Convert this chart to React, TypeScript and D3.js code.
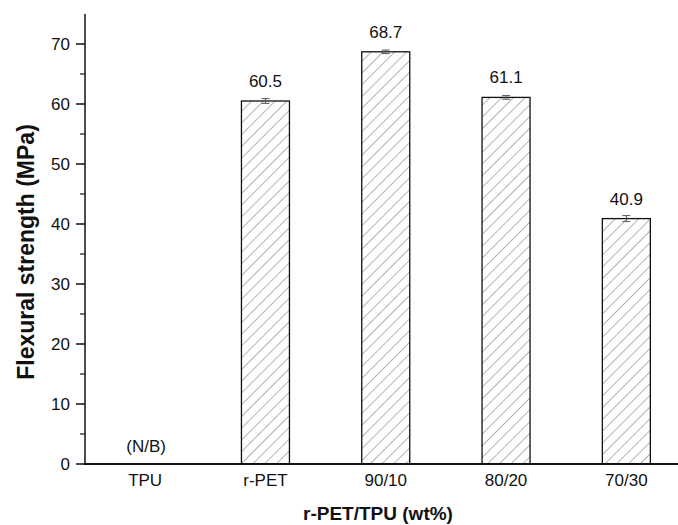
import React from "react";
import * as d3 from "d3";

const categories = ["TPU", "r-PET", "90/10", "80/20", "70/30"];
const values: (number | null)[] = [null, 60.5, 68.7, 61.1, 40.9];
const errors: (number | null)[] = [null, 0.4, 0.3, 0.3, 0.5];
const valueLabels = ["(N/B)", "60.5", "68.7", "61.1", "40.9"];
const majorTicks = [0, 10, 20, 30, 40, 50, 60, 70];
const minorTicks = [5, 15, 25, 35, 45, 55, 65];

export default function App() {
  const W = 678, H = 525;
  const x = d3.scalePoint<string>().domain(categories).range([85, 686.5]).padding(0.5);
  const y = d3.scaleLinear().domain([0, 75]).range([464, 14]);
  const barW = 48;
  const font = "Arial, 'Liberation Sans', sans-serif";
  return (
    <svg width={W} height={H} style={{ position: "absolute", left: 0, top: 0, background: "#fff" }}>
      <defs>
        <pattern id="hatch" patternUnits="userSpaceOnUse" width="8.3" height="8.3" patternTransform="rotate(45)">
          <line x1="0" y1="0" x2="0" y2="8.3" stroke="#444" strokeWidth="0.8" />
        </pattern>
      </defs>
      <rect width={W} height={H} fill="#fff" />
      {categories.map((c, i) => {
        const v = values[i];
        const cx = x(c)!;
        if (v == null) {
          return (
            <text key={c} x={cx + 1} y={452} textAnchor="middle" fontFamily={font} fontSize={17} fill="#111">
              {valueLabels[i]}
            </text>
          );
        }
        const e = errors[i]!;
        return (
          <g key={c}>
            <rect x={cx - barW / 2} y={y(v)} width={barW} height={y(0) - y(v)} fill="url(#hatch)" stroke="#111" strokeWidth={1.3} />
            <line x1={cx} x2={cx} y1={y(v + e)} y2={y(v - e)} stroke="#555" strokeWidth={1} />
            <line x1={cx - 4} x2={cx + 4} y1={y(v + e)} y2={y(v + e)} stroke="#555" strokeWidth={1} />
            <line x1={cx - 4} x2={cx + 4} y1={y(v - e)} y2={y(v - e)} stroke="#555" strokeWidth={1} />
            <text x={cx} y={y(v) - 14} textAnchor="middle" fontFamily={font} fontSize={17} fill="#111">
              {valueLabels[i]}
            </text>
          </g>
        );
      })}
      {/* axes */}
      <line x1={85} x2={85} y1={y(75)} y2={y(0)} stroke="#111" strokeWidth={1.5} />
      <line x1={84} x2={678} y1={y(0)} y2={y(0)} stroke="#111" strokeWidth={2.2} />
      {majorTicks.map((t) => (
        <g key={t}>
          <line x1={76} x2={85} y1={y(t)} y2={y(t)} stroke="#111" strokeWidth={1.5} />
          <text x={70} y={y(t) + 6} textAnchor="end" fontFamily={font} fontSize={17} fill="#111">
            {t}
          </text>
        </g>
      ))}
      {minorTicks.map((t) => (
        <line key={t} x1={80} x2={85} y1={y(t)} y2={y(t)} stroke="#111" strokeWidth={1.2} />
      ))}
      {categories.map((c) => (
        <text key={c} x={x(c)!} y={486} textAnchor="middle" fontFamily={font} fontSize={17} fill="#111">
          {c}
        </text>
      ))}
      <text x={378} y={520} textAnchor="middle" fontFamily={font} fontSize={19} fontWeight="bold" fill="#111">
        r-PET/TPU (wt%)
      </text>
      <text transform={`translate(34,${(y(0) + y(75)) / 2 + 13}) rotate(-90)`} textAnchor="middle" fontFamily={font} fontSize={23} fontWeight="bold" fill="#111">
        Flexural strength (MPa)
      </text>
    </svg>
  );
}
